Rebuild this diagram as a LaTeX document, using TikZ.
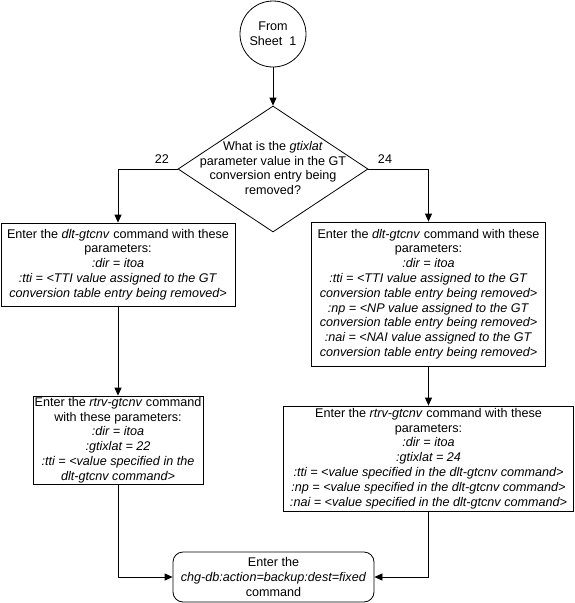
\documentclass[tikz,border=0pt]{standalone}
\usepackage{fontspec}
\setmainfont{Liberation Sans}
\usetikzlibrary{arrows.meta,shapes.geometric}
\begin{document}
\begin{tikzpicture}[x=1pt,y=-1pt,
  txt/.style={font=\fontsize{12.6}{14.8}\selectfont, align=center, inner sep=0pt, text=black},
  box/.style={txt, draw, line width=0.8pt, rectangle},
  arr/.style={line width=0.8pt, -{Triangle[length=8pt,width=7pt]}},
  ln/.style={line width=0.8pt}]
\useasboundingbox (0,0) rectangle (575,603);

\node[txt, draw, line width=0.8pt, circle, minimum size=66pt] (c) at (273,34) {From\\Sheet~~1};

\node[draw, line width=0.8pt, diamond, minimum width=190pt, minimum height=126pt, inner sep=0pt] (d) at (273,169) {};
\node[txt] (dt) at (273,168) {What is the \textit{gtixlat}\\parameter value in the GT\\conversion entry being\\removed?};

\node[txt] (l22) at (162,159) {22};
\node[txt] (l24) at (385,159) {24};

\node[box, minimum width=234pt, minimum height=83pt] (b1) at (118,264.5)
  {Enter the \textit{dlt-gtcnv} command with these\\parameters:\\\textit{:dir = itoa}\\\textit{:tti = <TTI value assigned to the GT}\\\textit{conversion table entry being removed>}};

\node[box, minimum width=234pt, minimum height=144pt] (rb1) at (428.5,294)
  {Enter the \textit{dlt-gtcnv} command with these\\parameters:\\\textit{:dir = itoa}\\\textit{:tti = <TTI value assigned to the GT}\\\textit{conversion table entry being removed>}\\\textit{:np = <NP value assigned to the GT}\\\textit{conversion table entry being removed>}\\\textit{:nai = <NAI value assigned to the GT}\\\textit{conversion table entry being removed>}};

\node[box, minimum width=170pt, minimum height=88pt] (b2) at (118,440)
  {Enter the \textit{rtrv-gtcnv} command\\with these parameters:\\\textit{:dir = itoa}\\\textit{:gtixlat = 22}\\\textit{:tti = <value specified in the}\\\textit{dlt-gtcnv command>}};

\node[box, minimum width=290pt, minimum height=105pt] (rb2) at (428.5,458.5)
  {Enter the \textit{rtrv-gtcnv} command with these\\parameters:\\\textit{:dir = itoa}\\\textit{:gtixlat = 24}\\\textit{:tti = <value specified in the dlt-gtcnv command>}\\\textit{:np = <value specified in the dlt-gtcnv command>}\\\textit{:nai = <value specified in the dlt-gtcnv command>}};

\node[box, rounded corners=10pt, minimum width=201pt, minimum height=50pt] (e) at (273.5,577)
  {Enter the\\\textit{chg-db:action=backup:dest=fixed}\\command};

\draw[arr] (c.south) -- (d.north);
\draw[arr] (d.west) -| (b1.north);
\draw[arr] (d.east) -| (rb1.north);
\draw[arr] (b1.south) -- (b2.north);
\draw[arr] (rb1.south) -- (rb2.north);
\draw[arr] (b2.south) |- (e.west);
\draw[arr] (rb2.south) |- (e.east);
\end{tikzpicture}
\end{document}
